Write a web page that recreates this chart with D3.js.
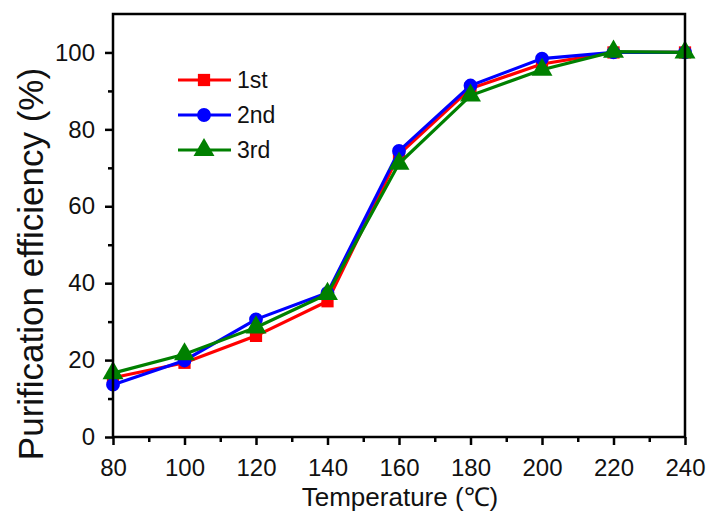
<!DOCTYPE html>
<html>
<head>
<meta charset="utf-8">
<script src="https://cdn.jsdelivr.net/npm/d3@7"></script>
<style>
  body { margin: 0; background: #fff; }
  text { font-family: Arial, "Liberation Sans", sans-serif; fill: #111; }
</style>
</head>
<body>
<div id="chart"></div>
<script>
// data
const temps = [80, 100, 120, 140, 160, 180, 200, 220, 240];
const run1 = [15.4, 19.3, 26.3, 35.3, 73.5, 90.6, 97.0, 100, 100];
const run2 = [13.6, 19.9, 30.6, 37.5, 74.4, 91.4, 98.4, 100, 100];
const run3 = [16.6, 21.5, 28.5, 37.2, 71.1, 88.8, 95.5, 100.2, 100];
const seriesNames = ["1st", "2nd", "3rd"];
const seriesColors = ["#ff0000", "#0000ff", "#008000"];
const seriesShapes = [d3.symbolSquare, d3.symbolCircle, d3.symbolTriangle];
const xTicks = [80, 100, 120, 140, 160, 180, 200, 220, 240];
const yTicks = [0, 20, 40, 60, 80, 100];

const W = 716, H = 532;
const margin = { top: 14, right: 31, bottom: 95, left: 113 };
const width = W - margin.left - margin.right;
const height = H - margin.top - margin.bottom;

const svg = d3.select("#chart").append("svg")
  .attr("width", W).attr("height", H);
const g = svg.append("g").attr("transform", `translate(${margin.left},${margin.top})`);

const x = d3.scaleLinear().domain([80, 240]).range([0, width]);
const y = d3.scaleLinear().domain([0, 110]).range([height, 0]);

// lines + markers
const allRuns = [run1, run2, run3];
const line = d3.line().x((d, i) => x(temps[i])).y(d => y(d));
const symSize = [150, 150, 190];

allRuns.forEach((vals, k) => {
  g.append("path").datum(vals)
    .attr("d", line)
    .attr("fill", "none")
    .attr("stroke", seriesColors[k])
    .attr("stroke-width", 3.2);
  g.selectAll(".m" + k).data(vals).enter().append("path")
    .attr("class", "m" + k)
    .attr("transform", (d, i) => `translate(${x(temps[i])},${y(d)})`)
    .attr("d", d3.symbol().type(seriesShapes[k]).size(symSize[k])())
    .attr("fill", seriesColors[k]);
});

// frame
g.append("rect").attr("width", width).attr("height", height)
  .attr("fill", "none").attr("stroke", "#000").attr("stroke-width", 2.5);

// minor ticks
const xMinor = d3.range(90, 240, 20);
const yMinor = d3.range(10, 110, 20);
g.append("g").attr("transform", `translate(0,${height})`)
  .call(d3.axisBottom(x).tickValues(xMinor).tickSize(5).tickFormat(""))
  .call(a => a.select(".domain").remove())
  .selectAll("line").attr("stroke-width", 2.5);
g.append("g")
  .call(d3.axisLeft(y).tickValues(yMinor).tickSize(5).tickFormat(""))
  .call(a => a.select(".domain").remove())
  .selectAll("line").attr("stroke-width", 2.5);

// major ticks + labels
const xAxis = g.append("g").attr("transform", `translate(0,${height})`)
  .call(d3.axisBottom(x).tickValues(xTicks).tickSize(8).tickPadding(14));
const yAxis = g.append("g")
  .call(d3.axisLeft(y).tickValues(yTicks).tickSize(8).tickPadding(10));
[xAxis, yAxis].forEach(a => {
  a.select(".domain").remove();
  a.selectAll("line").attr("stroke-width", 2.5);
  a.selectAll("text").style("font-size", "24px").attr("fill", "#111");
});

// axis titles
svg.append("text")
  .attr("x", 400).attr("y", 506)
  .attr("text-anchor", "middle").style("font-size", "26px")
  .text("Temperature (℃)");
svg.append("text")
  .attr("transform", "translate(43,264) rotate(-90)")
  .attr("text-anchor", "middle").style("font-size", "35px")
  .text("Purification efficiency (%)");

// legend
const legend = svg.append("g").attr("transform", "translate(178,80)");
seriesNames.forEach((name, k) => {
  const row = legend.append("g").attr("transform", `translate(0,${k * 35})`);
  row.append("line").attr("x1", 0).attr("x2", 53).attr("y1", 0).attr("y2", 0)
    .attr("stroke", seriesColors[k]).attr("stroke-width", 3);
  row.append("path").attr("transform", "translate(26,0)")
    .attr("d", d3.symbol().type(seriesShapes[k]).size(symSize[k])())
    .attr("fill", seriesColors[k]);
  row.append("text").attr("x", 59).attr("y", 7.5)
    .style("font-size", "23px").text(name);
});
</script>
</body>
</html>
